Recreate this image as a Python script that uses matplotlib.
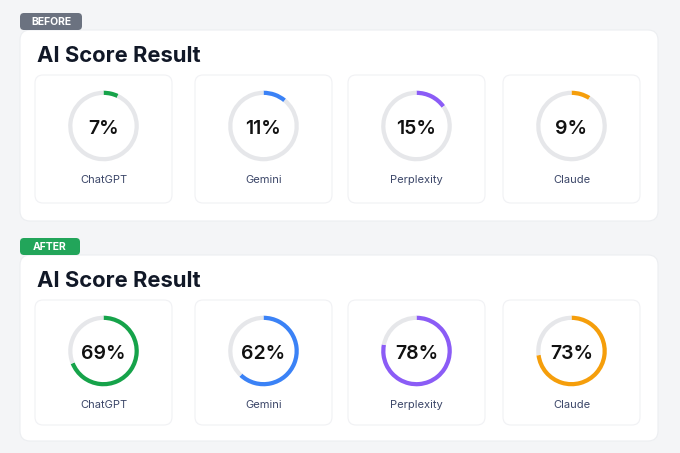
import matplotlib.pyplot as plt
from matplotlib.patches import FancyBboxPatch

plt.rcParams['font.family'] = ['Inter', 'DejaVu Sans']

# data
models = ['ChatGPT', 'Gemini', 'Perplexity', 'Claude']
before_scores = [7, 11, 15, 9]
after_scores = [69, 62, 78, 73]
colors = ['#16a34a', '#3b82f6', '#8b5cf6', '#f59e0b']

W, H = 680, 453
fig = plt.figure(figsize=(W / 100, H / 100), dpi=100)
fig.patch.set_facecolor('#f4f5f7')
bg = fig.add_axes([0, 0, 1, 1])
bg.set_xlim(0, W)
bg.set_ylim(H, 0)
bg.axis('off')


def rbox(x, y, w, h, r, fc, ec='none', lw=0, z=1):
    p = FancyBboxPatch((x, y), w, h, boxstyle='round,pad=0,rounding_size=%s' % r,
                       fc=fc, ec=ec, lw=lw, zorder=z)
    bg.add_patch(p)


card_x = [35, 195, 348, 503]
card_w = 137

sections = [
    ('BEFORE', '#6b7280', before_scores, 13, 62),
    ('AFTER', '#22a55a', after_scores, 238, 60),
]

for badge, bcol, scores, top, bw in sections:
    # panel
    panel_top = top + 17
    panel_h = 191 if badge == 'BEFORE' else 186
    rbox(20, panel_top, 638, panel_h, 10, '#ffffff', '#eceef1', 0.8, z=1)
    # badge
    rbox(20, top, bw, 17, 4, bcol, z=3)
    bg.text(20 + bw / 2, top + 9, badge, color='white', fontsize=7.5,
            fontweight='bold', ha='center', va='center', zorder=4)
    # title
    bg.text(37, panel_top + 32, 'AI Score Result', color='#111827', fontsize=15.8,
            fontweight='bold', ha='left', va='baseline', zorder=4)
    card_top = panel_top + 45
    card_h = 128 if badge == 'BEFORE' else 125
    cy = card_top + 51
    for i, (name, val) in enumerate(zip(models, scores)):
        cx = card_x[i] + card_w / 2
        rbox(card_x[i], card_top, card_w, card_h, 8, '#ffffff', '#f0f1f4', 0.8, z=2)
        r = 36
        ax = fig.add_axes([(cx - r) / W, (H - cy - r) / H, 2 * r / W, 2 * r / H])
        ax.pie([val, 100 - val], colors=[colors[i], '#e6e7ea'], startangle=90,
               counterclock=False, radius=1,
               wedgeprops=dict(width=0.12, edgecolor='none'))
        ax.set_xlim(-1.02, 1.02)
        ax.set_ylim(-1.02, 1.02)
        ax.axis('off')
        bg.text(cx, cy + 3, '%d%%' % val, color='#111111', fontsize=14,
                fontweight='semibold', ha='center', va='center', zorder=5)
        bg.text(cx, cy + 54, name, color='#3b4668', fontsize=8,
                ha='center', va='center', zorder=5)

fig.savefig('out.png', dpi=100, facecolor=fig.get_facecolor())
